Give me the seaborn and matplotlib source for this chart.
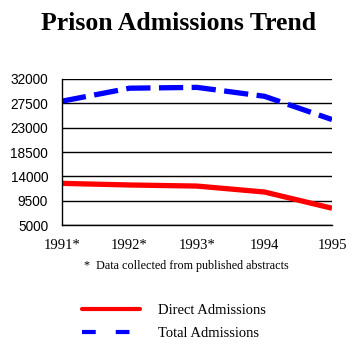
import pandas as pd
import matplotlib
matplotlib.use("Agg")
import matplotlib.pyplot as plt
from matplotlib.lines import Line2D
import seaborn as sns

years = ["1991*", "1992*", "1993*", "1994", "1995"]
direct = [12700, 12400, 12200, 11100, 8100]
total = [27900, 30300, 30450, 28800, 24500]
yticks = [5000, 9500, 14000, 18500, 23000, 27500, 32000]

df = pd.DataFrame({"x": range(len(years)), "direct": direct, "total": total})

sns.set_style("white")
plt.rcParams["font.family"] = ["Liberation Serif", "DejaVu Serif"]
plt.rcParams["text.color"] = "black"
plt.rcParams["xtick.color"] = "black"
plt.rcParams["ytick.color"] = "black"

fig = plt.figure(figsize=(3.58, 3.56), dpi=100)
ax = fig.add_axes([62 / 358, 1 - 225 / 356, 270 / 358, 146 / 356])

sns.lineplot(data=df, x="x", y="direct", ax=ax, color="#ff0000", lw=3.8,
             solid_capstyle="butt")
sns.lineplot(data=df, x="x", y="total", ax=ax, color="#0000ff", lw=3.8,
             dashes=False, solid_capstyle="butt")
ax.lines[-1].set_linestyle((0, (4.6, 1.6)))

ax.set_xlim(0, len(years) - 1)
ax.set_ylim(5000, 32000)
ax.set_xticks(range(len(years)))
ax.set_xticklabels(years, fontsize=10.5)
ax.set_yticks(yticks)
ax.set_yticklabels([str(v) for v in yticks], fontsize=9.8, family="Liberation Sans")
ax.set_xlabel("")
ax.set_ylabel("")

ax.grid(axis="y", color="black", lw=1)
ax.set_axisbelow(True)
for s in ["top", "right"]:
    ax.spines[s].set_visible(False)
ax.spines["left"].set_color("black")
ax.spines["bottom"].set_color("black")
ax.spines["left"].set_linewidth(1)
ax.spines["bottom"].set_linewidth(1)
ax.tick_params(axis="both", direction="out", length=8, width=1, color="black", pad=2)

fig.text(0.5, 1 - 23 / 356, "Prison Admissions Trend", ha="center", va="center",
         fontsize=18.5, fontweight="bold")
fig.text(0.52, 1 - 266 / 356, "*  Data collected from published abstracts",
         ha="center", va="center", fontsize=8.7)

handles = [
    Line2D([], [], color="#ff0000", lw=3),
    Line2D([], [], color="#0000ff", lw=3, linestyle=(0, (3.3, 4.8))),
]
fig.legend(handles, ["Direct Admissions", "Total Admissions"], loc="center",
           bbox_to_anchor=(0.485, 1 - 322 / 356), frameon=False, fontsize=10.5,
           handlelength=4.0, handletextpad=1.2, labelspacing=0.72)

fig.savefig("out.png", dpi=100)
